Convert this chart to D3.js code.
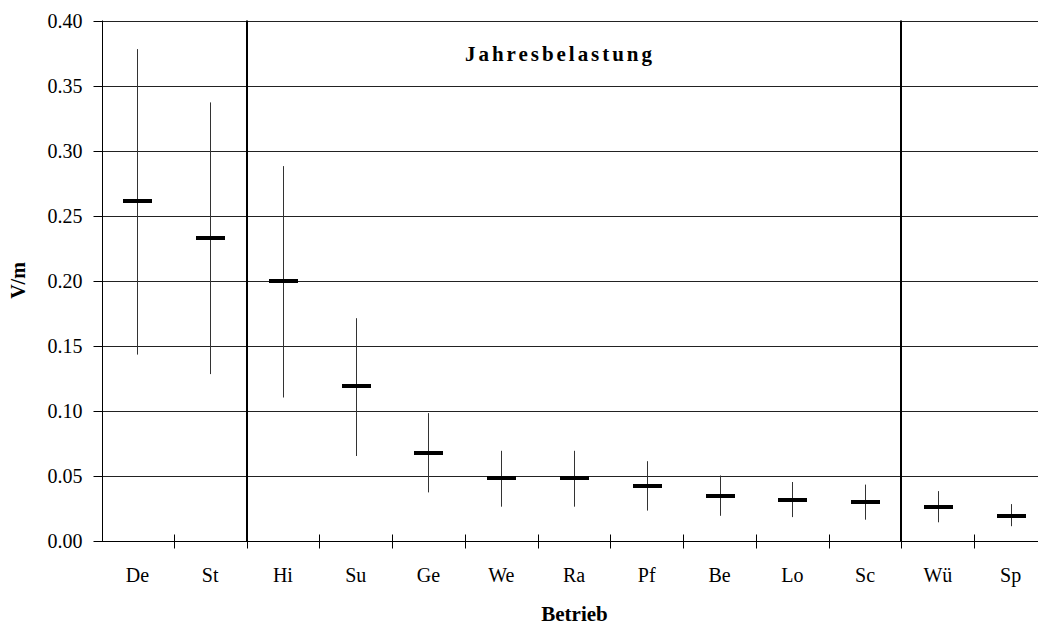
<!DOCTYPE html>
<html>
<head>
<meta charset="utf-8">
<script src="https://cdn.jsdelivr.net/npm/d3@7"></script>
<style>
  html, body { margin: 0; padding: 0; background: #fff; }
  svg { display: block; font-family: "Liberation Serif", "Times New Roman", serif; }
</style>
</head>
<body>
<svg id="chart" width="1038" height="626"></svg>
<script>
const categories = ["De","St","Hi","Su","Ge","We","Ra","Pf","Be","Lo","Sc","Wü","Sp"];
const meanValues = [0.261,0.233,0.200,0.119,0.067,0.048,0.048,0.042,0.034,0.031,0.030,0.026,0.019];
const upperValues = [0.378,0.337,0.288,0.171,0.098,0.069,0.069,0.061,0.050,0.045,0.043,0.038,0.028];
const lowerValues = [0.143,0.128,0.110,0.065,0.037,0.026,0.026,0.023,0.019,0.018,0.016,0.014,0.011];
const yTicks = [0,0.05,0.10,0.15,0.20,0.25,0.30,0.35,0.40];
const separatorsBefore = ["Hi","Wü"];
const titleText = "Jahresbelastung";
const xTitle = "Betrieb";
const yTitle = "V/m";

const data = categories.map((c,i)=>({cat:c, mean:meanValues[i], hi:upperValues[i], lo:lowerValues[i]}));

const svg = d3.select("#chart");
const pLeft = 102, pRight = 1047, pTop = 20.5, pBottom = 540.5;

const x = d3.scaleBand().domain(categories).range([101, 1047]).padding(0);
const y = d3.scaleLinear().domain([0, 0.4]).range([pBottom, pTop]);
const py = v => Math.round(y(v)) + 0.5;

// gridlines
svg.append("g").selectAll("line").data(yTicks.filter(t=>t>0)).join("line")
  .attr("x1", pLeft).attr("x2", pRight)
  .attr("y1", d=>py(d)).attr("y2", d=>py(d))
  .attr("stroke", "#222").attr("stroke-width", 1);

// y axis
const yAxis = svg.append("g").attr("transform", `translate(${pLeft+0.5},0)`)
  .call(d3.axisLeft(y).tickValues(yTicks).tickSize(9).tickPadding(11).tickFormat(d3.format(".2f")));
yAxis.attr("font-family", null).attr("font-size", null);
yAxis.selectAll(".tick").attr("transform", d=>`translate(0,${py(d)})`);
yAxis.selectAll(".tick line").attr("stroke", "#000");
yAxis.selectAll(".tick text").attr("font-size", 20).attr("fill", "#000");
yAxis.select(".domain").attr("stroke", "#000").attr("d", `M0,${pTop}V${py(0)}`);

// x axis line
svg.append("line").attr("x1", pLeft).attr("x2", pRight)
  .attr("y1", py(0)).attr("y2", py(0)).attr("stroke", "#000").attr("stroke-width", 1);

// x boundaries ticks
const boundaries = categories.slice(1).map(c=>x(c)).concat([x.range()[1]]);
svg.append("g").selectAll("line").data(boundaries).join("line")
  .attr("x1", d=>Math.round(d)+0.5).attr("x2", d=>Math.round(d)+0.5)
  .attr("y1", py(0)-7).attr("y2", py(0)+7)
  .attr("stroke", "#000").attr("stroke-width", 1);

// x labels
svg.append("g").selectAll("text").data(categories).join("text")
  .attr("x", d=>x(d)+x.bandwidth()/2).attr("y", 582)
  .attr("text-anchor", "middle").attr("font-size", 20).text(d=>d);

// separators
svg.append("g").selectAll("line").data(separatorsBefore).join("line")
  .attr("x1", d=>Math.round(x(d))).attr("x2", d=>Math.round(x(d)))
  .attr("y1", pTop).attr("y2", py(0))
  .attr("stroke", "#000").attr("stroke-width", 2);

// whiskers
svg.append("g").selectAll("line").data(data).join("line")
  .attr("x1", d=>Math.round(x(d.cat)+x.bandwidth()/2)+0.5)
  .attr("x2", d=>Math.round(x(d.cat)+x.bandwidth()/2)+0.5)
  .attr("y1", d=>y(d.hi)).attr("y2", d=>y(d.lo))
  .attr("stroke", "#333").attr("stroke-width", 1);

// mean markers
svg.append("g").selectAll("rect").data(data).join("rect")
  .attr("x", d=>Math.round(x(d.cat)+x.bandwidth()/2) - 14)
  .attr("y", d=>Math.round(y(d.mean)) - 2)
  .attr("width", 29).attr("height", 4)
  .attr("fill", "#000");

// titles
svg.append("text").attr("x", 465).attr("y", 61)
  .attr("font-size", 21).attr("font-weight", "bold")
  .attr("textLength", 187).attr("lengthAdjust", "spacing")
  .text(titleText);

svg.append("text").attr("x", (pLeft+pRight)/2).attr("y", 621)
  .attr("text-anchor", "middle").attr("font-size", 21).attr("font-weight", "bold")
  .text(xTitle);

svg.append("text")
  .attr("transform", `translate(25,${(pTop+pBottom)/2}) rotate(-90)`)
  .attr("text-anchor", "middle").attr("font-size", 20).attr("font-weight", "bold")
  .text(yTitle);
</script>
</body>
</html>
